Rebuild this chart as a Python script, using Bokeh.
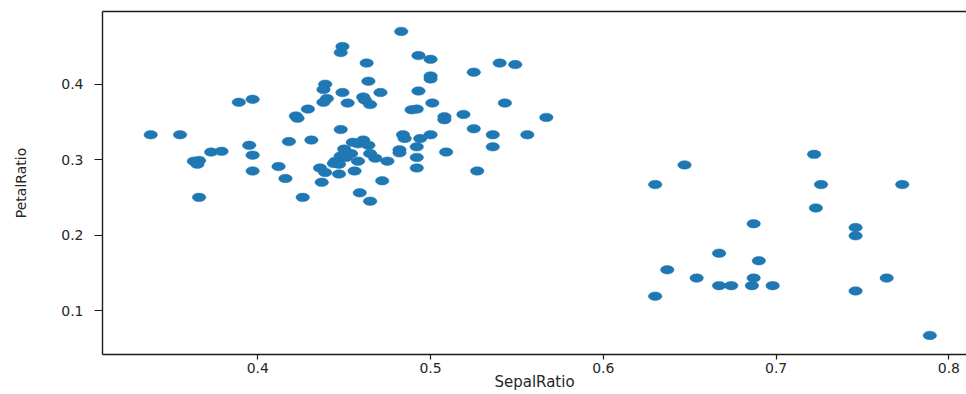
from bokeh.plotting import figure
from bokeh.models import Range1d, FixedTicker, LinearAxis, ColumnDataSource
from bokeh.embed import file_html
from bokeh.resources import INLINE

# Ratio of sepal width to length (x) and petal width to length (y)
sepal_ratio = [
    0.630, 0.647, 0.722, 0.726, 0.773, 0.723, 0.687, 0.746, 0.746, 0.667, 0.690,
    0.637, 0.654, 0.687, 0.764, 0.667, 0.674, 0.686, 0.698, 0.630, 0.746, 0.789,
    0.338, 0.355, 0.389, 0.397, 0.422, 0.423, 0.429, 0.418, 0.431, 0.363, 0.366,
    0.365, 0.373, 0.379, 0.395, 0.397, 0.397, 0.412, 0.416, 0.436, 0.437, 0.366,
    0.426, 0.439, 0.438, 0.440, 0.438, 0.449, 0.448, 0.463, 0.483, 0.493, 0.500,
    0.464, 0.449, 0.471, 0.493, 0.461, 0.462, 0.452, 0.465, 0.500, 0.500, 0.489,
    0.492, 0.501, 0.525, 0.540, 0.549, 0.543, 0.508, 0.508, 0.519, 0.567, 0.448,
    0.525, 0.536, 0.556, 0.484, 0.485, 0.494, 0.500, 0.455, 0.461, 0.458, 0.464,
    0.450, 0.454, 0.448, 0.451, 0.445, 0.447, 0.444, 0.458, 0.465, 0.468, 0.475,
    0.482, 0.482, 0.492, 0.492, 0.492, 0.509, 0.536, 0.527, 0.439, 0.447, 0.456,
    0.472, 0.459, 0.465,
]
petal_ratio = [
    0.267, 0.293, 0.307, 0.267, 0.267, 0.236, 0.215, 0.210, 0.199, 0.176, 0.166,
    0.154, 0.143, 0.143, 0.143, 0.133, 0.133, 0.133, 0.133, 0.119, 0.126, 0.067,
    0.333, 0.333, 0.376, 0.380, 0.358, 0.355, 0.367, 0.324, 0.326, 0.298, 0.299,
    0.294, 0.310, 0.311, 0.319, 0.306, 0.285, 0.291, 0.275, 0.289, 0.270, 0.250,
    0.250, 0.400, 0.393, 0.381, 0.376, 0.450, 0.442, 0.428, 0.470, 0.438, 0.433,
    0.404, 0.389, 0.389, 0.391, 0.383, 0.379, 0.375, 0.373, 0.411, 0.407, 0.366,
    0.367, 0.375, 0.416, 0.428, 0.426, 0.375, 0.357, 0.353, 0.360, 0.356, 0.340,
    0.341, 0.333, 0.333, 0.333, 0.328, 0.328, 0.333, 0.323, 0.326, 0.321, 0.319,
    0.314, 0.308, 0.305, 0.303, 0.298, 0.294, 0.295, 0.298, 0.308, 0.302, 0.298,
    0.313, 0.309, 0.317, 0.303, 0.289, 0.310, 0.317, 0.285, 0.283, 0.281, 0.285,
    0.272, 0.256, 0.245,
]

x_ticks = [0.4, 0.5, 0.6, 0.7, 0.8]
y_ticks = [0.1, 0.2, 0.3, 0.4]

source = ColumnDataSource(data=dict(sepal=sepal_ratio, petal=petal_ratio))

p = figure(
    width=966, height=394,
    output_backend="svg", toolbar_location=None,
    x_range=Range1d(0.3101, 0.8102), y_range=Range1d(0.0417, 0.4964),
    min_border_left=102, min_border_right=0, min_border_top=11, min_border_bottom=40,
    background_fill_color="white", border_fill_color="white",
)
p.outline_line_color = None
p.grid.visible = False

p.ellipse(x="sepal", y="petal", width=13.5, height=8.5,
          width_units="screen", height_units="screen",
          source=source, fill_color="#1f77b4", line_color="#1f77b4", line_width=0.5)

font = "DejaVu Sans"
for ax in (p.xaxis[0], p.yaxis[0]):
    ax.axis_line_color = "#1a1a1a"
    ax.axis_line_width = 1.4
    ax.major_tick_line_color = "#1a1a1a"
    ax.major_tick_line_width = 1.2
    ax.major_tick_in = 0
    ax.minor_tick_line_color = None
    ax.major_label_text_font = font
    ax.major_label_text_font_size = "14px"
    ax.major_label_text_color = "#262626"
    ax.axis_label_text_font = font
    ax.axis_label_text_font_style = "normal"
    ax.axis_label_text_color = "#262626"

p.xaxis[0].ticker = FixedTicker(ticks=x_ticks)
p.yaxis[0].ticker = FixedTicker(ticks=y_ticks)
p.xaxis[0].axis_label = "SepalRatio"
p.yaxis[0].axis_label = "PetalRatio"
p.xaxis[0].axis_label_text_font_size = "15px"
p.yaxis[0].axis_label_text_font_size = "14px"
p.xaxis[0].major_tick_out = 5
p.xaxis[0].major_label_standoff = 3
p.xaxis[0].axis_label_standoff = -3
p.yaxis[0].major_tick_out = 8
p.yaxis[0].major_label_standoff = 11
p.yaxis[0].axis_label_standoff = 29

# top spine
top = LinearAxis(ticker=FixedTicker(ticks=[]), major_label_text_font_size="0px",
                 major_tick_out=0, major_tick_in=0, minor_tick_line_color=None,
                 axis_line_color="#1a1a1a", axis_line_width=1.4)
p.add_layout(top, "above")

open("out.html", "w").write(file_html(p, INLINE))
